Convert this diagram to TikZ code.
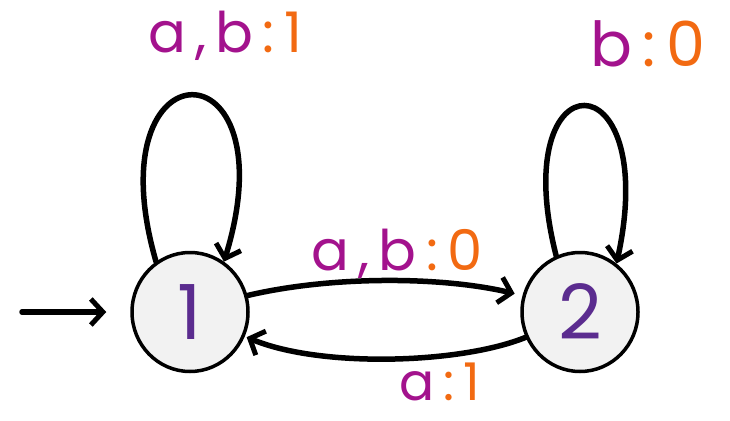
\documentclass[tikz,border=0pt]{standalone}
\usepackage{fontspec}
\setmainfont{Poppins}
\usetikzlibrary{arrows.meta,shapes.geometric}
\definecolor{lblpurple}{HTML}{A3128D}
\definecolor{lblorange}{HTML}{F26A12}
\definecolor{numpurple}{HTML}{5B2C8F}
\definecolor{nodefill}{HTML}{F2F2F2}
\tikzset{
  state/.style={ellipse,draw=black,line width=3.5pt,fill=nodefill,minimum width=116pt,minimum height=119pt,inner sep=0pt,
    text=numpurple,font=\fontsize{76}{80}\selectfont},
  edge/.style={line width=5.5pt,line cap=round,line join=round,-{Straight Barb[length=12pt,width=26pt,line width=5pt]}},
  lbl/.style={font=\fontsize{56}{60}\selectfont,inner sep=0pt},
}
\newcommand{\pp}[1]{\textcolor{lblpurple}{#1}}
\newcommand{\oo}[1]{\textcolor{lblorange}{#1}}
\begin{document}
\begin{tikzpicture}[x=1pt,y=-1pt]
\useasboundingbox (0,0) rectangle (730,420);
\node[state] (n1) at (190,312) {1};
\node[state] (n2) at (580,312) {2};
\coordinate (init) at (22,312);
\draw[edge,shorten >=24pt] (init) -- (n1);
% self loops
\draw[edge] (n1.124) .. controls (92,40) and (292,40) .. (n1.56);
\draw[edge] (n2.113) .. controls (505,55) and (662,55) .. (n2.53);
% edges between states
\draw[edge,shorten >=8pt] (n1.16) .. controls (330,276) and (440,276) .. (n2.164);
\draw[edge,shorten >=2pt] (n2.205) .. controls (460,364) and (320,368) .. (n1.336);
% labels
\node[lbl] (l11) at (225,36) {\pp{a\,,\,b\,}\oo{:\,1}};
\node[lbl,font=\fontsize{62}{66}\selectfont] (l22) at (648,44) {\pp{b\,}\oo{:\,0}};
\node[lbl] (l12) at (397,254) {\pp{a\,,\,b\,}\oo{:\,0}};
\node[lbl,font=\fontsize{52}{56}\selectfont] (l21) at (440,382) {\pp{a\,}\oo{:\,1}};
\end{tikzpicture}
\end{document}
